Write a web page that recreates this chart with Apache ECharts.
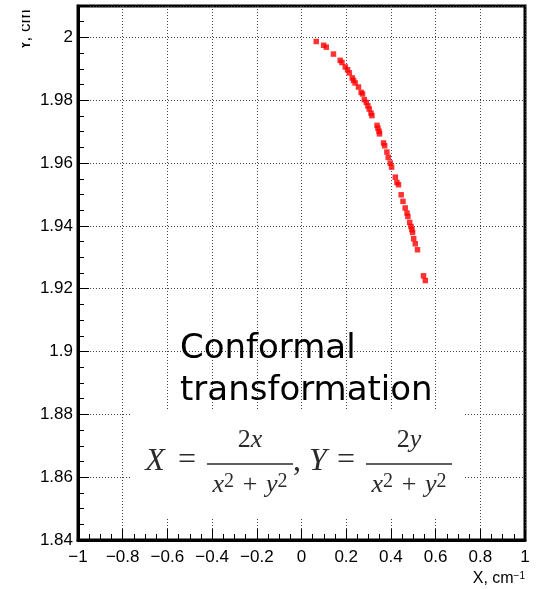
<!DOCTYPE html>
<html><head><meta charset="utf-8">
<script src="https://cdn.jsdelivr.net/npm/echarts@6/dist/echarts.min.js"></script>
<style>html,body{margin:0;padding:0;background:#fff}#c{width:543px;height:589px}</style>
</head><body><div id="c"></div>
<script>
// ---- data ----
const xValues = [0.066, 0.099, 0.111, 0.143, 0.173, 0.181, 0.196, 0.206, 0.214, 0.227, 0.233, 0.240,
  0.255, 0.267, 0.273, 0.281, 0.290, 0.297, 0.303, 0.311, 0.315, 0.338, 0.342, 0.347, 0.349, 0.367,
  0.372, 0.382, 0.388, 0.397, 0.403, 0.420, 0.427, 0.434, 0.446, 0.454, 0.464, 0.472, 0.476, 0.484,
  0.490, 0.494, 0.497, 0.502, 0.509, 0.519, 0.546, 0.554];
const yValues = [1.9987, 1.9975, 1.9969, 1.9947, 1.9927, 1.9920, 1.9906, 1.9897, 1.9887, 1.9871, 1.9863, 1.9855,
  1.9842, 1.9825, 1.9820, 1.9802, 1.9793, 1.9782, 1.9772, 1.9759, 1.9751, 1.9720, 1.9711, 1.9701, 1.9693, 1.9664,
  1.9655, 1.9635, 1.9618, 1.9600, 1.9587, 1.9555, 1.9538, 1.9531, 1.9499, 1.9478, 1.9457, 1.9441, 1.9430, 1.9411,
  1.9398, 1.9388, 1.9379, 1.9359, 1.9343, 1.9324, 1.9241, 1.9226];
const xRange = [-1, 1];
const xStep = 0.2;
const yRange = [1.84, 2.01];
const yStep = 0.02;
const xAxisTitle = 'X, cm';
const xAxisTitleSup = '\u22121';
const yAxisTitle = 'Y, cm';
const annotationLines = ['Conformal', 'transformation'];

// ---- chart ----
const chart = echarts.init(document.getElementById('c'), null, {renderer: 'canvas'});
const points = xValues.map((x, i) => [x, yValues[i]]);
const fmt = v => String(+(+v).toFixed(2)).replace('-', '\u2212');
const labelFont = {color: '#000', fontSize: 17, fontFamily: 'Liberation Sans'};
const gridLine = {show: true, lineStyle: {color: '#444', type: [1, 2], width: 1}};

const ink = '#2a2a2a';
const serifI = {fontFamily: 'Liberation Serif', fontStyle: 'italic', fill: ink};
const serifN = {fontFamily: 'Liberation Serif', fontStyle: 'normal', fill: ink};
function txt(text, x, y, size, italic) {
  return {type: 'text', x: x, y: y, z: 20, style: Object.assign({
    text: text, fontSize: size, align: 'center', verticalAlign: 'middle'
  }, italic ? serifI : serifN)};
}
function rich(text, x, y, size) {
  return {type: 'text', x: x, y: y, z: 20, style: {
    text: text, align: 'center', verticalAlign: 'middle', fill: ink,
    rich: {
      i: {fontFamily: 'Liberation Serif', fontStyle: 'italic', fontSize: size, fill: ink},
      n: {fontFamily: 'Liberation Serif', fontSize: size, fill: ink},
      s: {fontFamily: 'Liberation Serif', fontSize: Math.round(size * 0.76), fill: ink, verticalAlign: 'top'}
    }}};
}
function bar(x1, x2, y) {
  return {type: 'line', z: 20, shape: {x1: x1, y1: y, x2: x2, y2: y}, style: {stroke: ink, lineWidth: 1.4}};
}
const denom = '{i|x}{s|2}{n|\u2004+\u2004}{i|y}{s|2}';

const option = {
  backgroundColor: '#fff',
  animation: false,
  grid: {left: 78, right: 18, top: 6, bottom: 49, show: true, borderColor: '#000', borderWidth: 3,
         containLabel: false, outerBoundsMode: 'none'},
  xAxis: {
    type: 'value', min: xRange[0], max: xRange[1], interval: xStep,
    axisLine: {show: true, onZero: false, lineStyle: {color: '#000', width: 3}},
    axisTick: {show: true, inside: true, length: 11, lineStyle: {color: '#000', width: 1}},
    minorTick: {show: true, splitNumber: 4, length: 6, lineStyle: {color: '#000', width: 1}},
    splitLine: gridLine,
    axisLabel: Object.assign({formatter: fmt, margin: 9}, labelFont)
  },
  yAxis: {
    type: 'value', min: yRange[0], max: yRange[1], interval: yStep,
    axisLine: {show: true, onZero: false, lineStyle: {color: '#000', width: 3}},
    axisTick: {show: true, inside: true, length: 11, lineStyle: {color: '#000', width: 1}},
    minorTick: {show: true, splitNumber: 4, length: 6, lineStyle: {color: '#000', width: 1}},
    splitLine: gridLine,
    axisLabel: Object.assign({formatter: fmt, margin: 5, showMaxLabel: false}, labelFont)
  },
  series: [{
    type: 'scatter', data: points, symbol: 'rect', symbolSize: 5.5, z: 30,
    itemStyle: {color: '#ff0000'}
  }],
  graphic: [
    // formula panel
    {type: 'rect', z: 10, shape: {x: 132, y: 411, width: 333, height: 106}, style: {fill: '#fff'}},
    txt('X', 155, 462, 32, true),
    txt('=', 187, 461, 32, false),
    bar(207, 293, 464),
    rich('{n|2}{i|x}', 250, 440, 26),
    rich(denom, 250, 485, 26),
    txt(',', 297, 462, 32, false),
    txt('Y', 318, 462, 32, true),
    txt('=', 346, 461, 32, false),
    bar(366, 452, 464),
    rich('{n|2}{i|y}', 409, 440, 26),
    rich(denom, 409, 485, 26),
    // annotation
    {type: 'text', x: 180, y: 349, z: 25, style: {text: annotationLines[0], fontSize: 34, fontFamily: 'DejaVu Sans', fill: '#000', align: 'left', verticalAlign: 'middle'}},
    {type: 'text', x: 180, y: 391, z: 25, style: {text: annotationLines[1], fontSize: 34, fontFamily: 'DejaVu Sans', fill: '#000', align: 'left', verticalAlign: 'middle'}},
    // axis titles
    {type: 'text', x: 525, y: 579, z: 25, style: {
      text: '{a|' + xAxisTitle + '}{b|' + xAxisTitleSup + '}', align: 'right', verticalAlign: 'middle',
      rich: {a: {fontSize: 16, fontFamily: 'Liberation Sans', fill: '#000'},
             b: {fontSize: 10, fontFamily: 'Liberation Sans', fill: '#000', verticalAlign: 'top'}}}},
    {type: 'text', x: 25, y: 30, rotation: Math.PI / 2, z: 25, style: {
      text: yAxisTitle, fontSize: 17, fontFamily: 'Liberation Sans', fill: '#000', align: 'center', verticalAlign: 'middle'}},
    {type: 'rect', z: 26, shape: {x: 0, y: 0, width: 22, height: 70}, style: {fill: '#fff'}}
  ]
};
chart.setOption(option);
</script>
</body></html>
